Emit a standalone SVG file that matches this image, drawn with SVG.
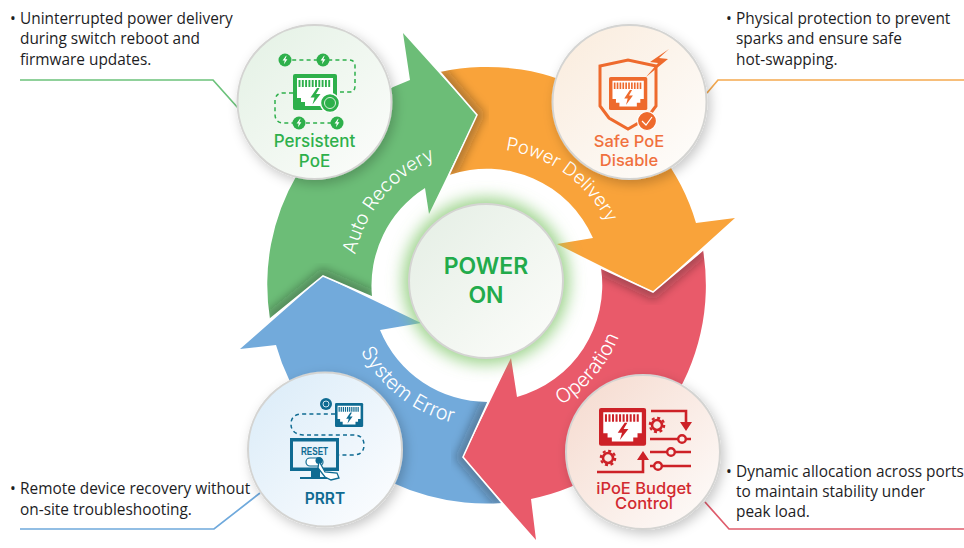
<svg xmlns="http://www.w3.org/2000/svg" width="964" height="548" viewBox="0 0 964 548">
<style>
.note{font-family:"Open Sans","Noto Sans",sans-serif;font-size:15.4px;fill:#1d1d1f}
.arc{font-family:"Inter","Lato",sans-serif;font-size:19px;font-weight:300;fill:#fff;text-anchor:middle}
.cap{font-family:"Inter","Lato",sans-serif;font-size:16.5px;font-weight:500;text-anchor:middle}
.ring{stroke:#d4d4d2;stroke-width:2}
.lead{fill:none;stroke-width:1.7}
.dash{fill:none;stroke-width:1.5;stroke-dasharray:4 3.2}
.edge{fill:none;stroke:#fff;stroke-width:1.6}
.shade{fill:none;stroke:#222;stroke-width:14;stroke-opacity:.32;filter:url(#soft)}
</style>
<defs>
<filter id="soft" x="-30%" y="-30%" width="160%" height="160%"><feGaussianBlur stdDeviation="5"/></filter>
<filter id="glow" x="-30%" y="-30%" width="160%" height="160%"><feGaussianBlur stdDeviation="8"/></filter>
<filter id="drop" x="-20%" y="-20%" width="150%" height="150%"><feDropShadow dx="3" dy="4" stdDeviation="6" flood-color="#000" flood-opacity=".22"/></filter>
<linearGradient id="gG" x1="0" y1="0" x2="1" y2="1"><stop offset="0" stop-color="#e3f1e4"/><stop offset="1" stop-color="#fdfdfc"/></linearGradient>
<linearGradient id="gO" x1="0" y1="0" x2="1" y2="1"><stop offset="0" stop-color="#faebdc"/><stop offset="1" stop-color="#fefefd"/></linearGradient>
<linearGradient id="gB" x1="0" y1="0" x2="1" y2="1"><stop offset="0" stop-color="#d9ebf8"/><stop offset="1" stop-color="#fefeff"/></linearGradient>
<linearGradient id="gR" x1="0" y1="0" x2="1" y2="1"><stop offset="0" stop-color="#f5d9cd"/><stop offset="1" stop-color="#fefdfc"/></linearGradient>
<linearGradient id="gC" x1="0" y1="0" x2="1" y2="1"><stop offset="0" stop-color="#e4eee4"/><stop offset="1" stop-color="#fdfdfb"/></linearGradient>
<path id="pG" d="M270,319A218,218 0 0 1 410,80L403,33L477,115L429,214L425,188A116,116 0 0 0 372,297L323,276Z"/>
<path id="pO" d="M440,72A218,218 0 0 1 696,223L735,218L653,292L557,244L593,238A116,116 0 0 0 449,175L477,115Z"/>
<path id="pR" d="M703,250A218,218 0 0 1 531,499L536,540L463,457L511,358L517,397A116,116 0 0 0 601,268L653,292Z"/>
<path id="pB" d="M502,503A218,218 0 0 1 276,345L240,349L323,276L421,323L380,330A116,116 0 0 0 488,402L463,457Z"/>
<clipPath id="cG"><use href="#pG"/></clipPath>
<clipPath id="cO"><use href="#pO"/></clipPath>
<clipPath id="cR"><use href="#pR"/></clipPath>
<clipPath id="cB"><use href="#pB"/></clipPath>
<path id="tG" d="M355.100,313A135,135 0 0 1 492.700,149.100"/>
<path id="tO" d="M452,153.600A135,135 0 0 1 621.700,274.600"/>
<path id="tR" d="M487,426A142,142 0 0 0 627,260"/>
<path id="tB" d="M344.300,294A143,143 0 0 0 511.800,424.800"/>
<g id="port">
<rect width="44" height="36" rx="2" fill="currentColor"/>
<path d="M4,4H40V24H36V28H32V32H12V28H8V24H4Z" fill="#fff"/>
<path d="M6.500,6V13M9.800,6V13M13.100,6V13M16.400,6V13M19.700,6V13M23,6V13M26.300,6V13M29.600,6V13M32.900,6V13M36.200,6V13" stroke="currentColor" stroke-width="1.900" fill="none"/>
<path d="M24,14L17.500,23.500H21.500L19.500,30.500L27.500,20H23L26.500,14Z" fill="currentColor"/>
</g>
<path id="bolt" d="M1,-4.200L-2.400,.6H-.3L-1,4.200L2.400,-.8H.3L1.600,-4.200Z" fill="#fff"/>
<g id="gear" fill="none" stroke="currentColor"><circle r="5" stroke-width="2.600"/><circle r="7.200" stroke-width="2.200" stroke-dasharray="3 2.650"/></g>
</defs>

<g id="arrows">
<g id="arrow-auto-recovery"><use href="#pG" fill="#6cbd77"/></g>
<g id="arrow-power-delivery"><use href="#pO" fill="#f9a33a"/></g>
<g id="arrow-operation"><use href="#pR" fill="#e95a6a"/></g>
<g id="arrow-system-error"><use href="#pB" fill="#72aadb"/></g>
<g clip-path="url(#cO)"><path class="shade" d="M440,72L477,115L449,175"/></g>
<g clip-path="url(#cR)"><path class="shade" d="M703,250L653,292L601,268"/></g>
<g clip-path="url(#cB)"><path class="shade" d="M502,503L463,457L488,402"/></g>
<g clip-path="url(#cG)"><path class="shade" d="M270,319L323,276L372,297"/></g>
<path class="edge" d="M440,72L477,115L449,175"/>
<path class="edge" d="M703,250L653,292L601,268"/>
<path class="edge" d="M502,503L463,457L488,402"/>
<path class="edge" d="M270,319L323,276L372,297"/>
<text class="arc"><textPath href="#tG" startOffset="50%">Auto Recovery</textPath></text>
<text class="arc" style="font-size:18.500px"><textPath href="#tO" startOffset="50%">Power Delivery</textPath></text>
<text class="arc" style="font-size:20px"><textPath href="#tR" startOffset="50%">Operation</textPath></text>
<text class="arc" style="font-size:20px"><textPath href="#tB" startOffset="50%">System Error</textPath></text>
</g>

<g id="connectors">
<path class="lead" stroke="#6cc27b" d="M20,80H213L238,108"/>
<path class="lead" stroke="#f5a94f" d="M707,93L718,80H964"/>
<path class="lead" stroke="#6fa9dc" d="M20,529H214L260,493"/>
<path class="lead" stroke="#df5c6c" d="M705,502L729,529H964"/>
</g>

<g id="node-power-on">
<circle cx="486" cy="281" r="83" fill="#83c86d" fill-opacity=".8" filter="url(#glow)"/>
<circle class="ring" cx="486" cy="281" r="77" fill="url(#gC)"/>
<text x="486" y="274" text-anchor="middle" font-family="Inter,Lato,sans-serif" font-size="23" font-weight="600" fill="#22ab4b">POWER</text>
<text x="486" y="303" text-anchor="middle" font-family="Inter,Lato,sans-serif" font-size="23" font-weight="600" fill="#22ab4b">ON</text>
</g>

<g id="node-persistent-poe" style="color:#2eb04b">
<circle class="ring" cx="314.500" cy="102" r="77" fill="url(#gG)" filter="url(#drop)"/>
<path class="dash" stroke="#2eb04b" d="M285,60H349Q355,60 355,66V86Q355,92 349,92H337M293,93H283Q276,93 275,100V114Q275,123 284,123H337"/>
<use href="#port" transform="translate(293,74)"/>
<circle cx="330" cy="103" r="9.500" fill="#2eb04b" stroke="#fff" stroke-width="1.400"/>
<circle cx="330" cy="103" r="5.500" fill="none" stroke="#d9f0dc" stroke-width="1"/>
<g fill="#2eb04b"><circle cx="285" cy="60" r="6.500"/><circle cx="323" cy="60" r="6.500"/><circle cx="299" cy="123" r="6.500"/><circle cx="337" cy="123" r="6.500"/></g>
<use href="#bolt" x="285" y="60"/><use href="#bolt" x="323" y="60"/><use href="#bolt" x="299" y="123"/><use href="#bolt" x="337" y="123"/>
<text class="cap" x="314.500" y="147" fill="#2eb04b" style="font-size:17px">Persistent</text>
<text class="cap" x="314.500" y="167" fill="#2eb04b" style="font-size:17px">PoE</text>
</g>

<g id="node-safe-poe" style="color:#ee6a2d">
<circle class="ring" cx="629.500" cy="102" r="77" fill="url(#gO)" filter="url(#drop)"/>
<path d="M600,66L628,60L656,66V106L647,118L628,129L609,118L600,106Z" fill="none" stroke="#ee6a2d" stroke-width="3"/>
<use href="#port" transform="translate(609,77) scale(.87,.92)"/>
<path d="M669,49L650,62L658,63L646,77L668,59L659,58Z" fill="#ee6a2d"/>
<circle cx="647" cy="121" r="9.500" fill="#ee6a2d" stroke="#fff" stroke-width="1.200"/>
<path d="M642,121L646,125L652,117" fill="none" stroke="#fff" stroke-width="1.200"/>
<text class="cap" x="629" y="147" fill="#f0703d">Safe PoE</text>
<text class="cap" x="629" y="166" fill="#f0703d">Disable</text>
</g>

<g id="node-prrt" style="color:#0f6b92">
<circle class="ring" cx="325" cy="449.500" r="77" fill="url(#gB)" filter="url(#drop)"/>
<path class="dash" stroke="#0f6b92" d="M335,414H303Q291,414 291,424T303,435H353Q364,435 364,445T353,455H339"/>
<use href="#port" transform="translate(335,403) scale(.64,.67)"/>
<circle cx="326" cy="404" r="6" fill="#0f6b92"/>
<circle cx="326" cy="404" r="3" fill="none" stroke="#cfe6f2" stroke-width="1"/>
<rect x="290" y="438" width="49" height="33" fill="#0f6b92"/>
<rect x="293" y="441.500" width="43" height="26" fill="#e9f4fb"/>
<path d="M311,471H320V477H328V479H300V477H311Z" fill="#0f6b92"/>
<text x="301" y="455" font-family="Liberation Sans,sans-serif" font-size="11" font-weight="700" fill="#0f6b92" textLength="27" lengthAdjust="spacingAndGlyphs">RESET</text>
<rect x="306" y="458" width="17" height="8" rx="4" fill="#fff" stroke="#0f6b92" stroke-width="1.200"/>
<circle cx="319" cy="460.500" r="3.500" fill="#0f6b92"/>
<path d="M319,461L325,472L337,473L339,478L331,480L325,477L318,468Z" fill="#fff" stroke="#0f6b92" stroke-width="1.300"/>
<text class="cap" x="325" y="504" fill="#0f6b92" style="font-weight:600;font-size:15.500px">PRRT</text>
</g>

<g id="node-ipoe" style="color:#cd2127">
<circle class="ring" cx="643" cy="452" r="77" fill="url(#gR)" filter="url(#drop)"/>
<use href="#port" transform="translate(599,408) scale(1.070,1.050)"/>
<use href="#gear" x="657" y="425"/>
<use href="#gear" x="608" y="458"/>
<path d="M651,411H686V424M597,472H643V458" fill="none" stroke="#cd2127" stroke-width="2.600"/>
<path d="M680,422H692L686,431ZM637,460H649L643,451Z" fill="#cd2127"/>
<path d="M650,439H691M650,452H691M650,466H691" stroke="#cd2127" stroke-width="2.400"/>
<g fill="#fbeee9" stroke="#cd2127" stroke-width="2.400"><circle cx="682" cy="439" r="3.800"/><circle cx="671" cy="452" r="3.800"/><circle cx="658" cy="466" r="3.800"/></g>
<text class="cap" x="644" y="494" fill="#d22a30">iPoE Budget</text>
<text class="cap" x="644" y="509" fill="#d22a30">Control</text>
</g>

<g id="notes">
<text class="note" x="10" y="24">•</text><text class="note" x="20" y="24">Uninterrupted power delivery</text>
<text class="note" x="20" y="44">during switch reboot and</text>
<text class="note" x="20" y="65">firmware updates.</text>
<text class="note" x="726" y="24">•</text><text class="note" x="736" y="24">Physical protection to prevent</text>
<text class="note" x="736" y="44">sparks and ensure safe</text>
<text class="note" x="736" y="65">hot-swapping.</text>
<text class="note" x="10" y="494">•</text><text class="note" x="20" y="494">Remote device recovery without</text>
<text class="note" x="20" y="515">on-site troubleshooting.</text>
<text class="note" x="726" y="477">•</text><text class="note" x="736" y="477">Dynamic allocation across ports</text>
<text class="note" x="736" y="497">to maintain stability under</text>
<text class="note" x="736" y="517">peak load.</text>
</g>
</svg>
